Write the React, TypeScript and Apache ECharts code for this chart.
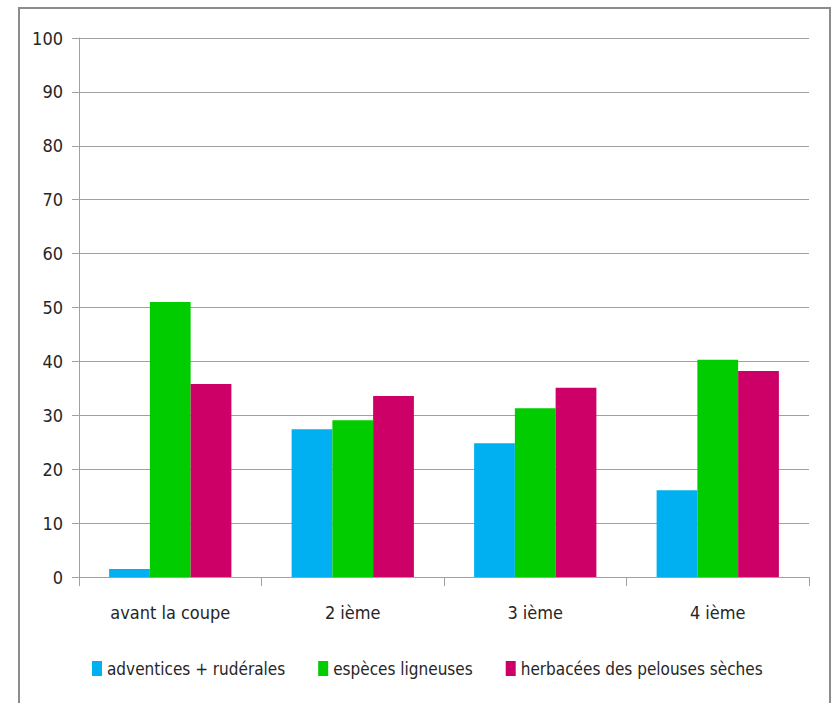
import React, { useEffect, useRef } from "react";
import * as echarts from "echarts";

const categories = ["avant la coupe", "2 ième", "3 ième", "4 ième"];
const seriesNames = ["adventices + rudérales", "espèces ligneuses", "herbacées des pelouses sèches"];
const adventices = [1.5, 27.4, 24.8, 16.1];
const ligneuses = [51, 29.1, 31.3, 40.3];
const herbacees = [35.8, 33.6, 35.1, 38.2];
const colors = ["#00B0F0", "#00CC00", "#CC0066"];

const FONT = "'DejaVu Sans Condensed', 'Liberation Sans Narrow', sans-serif";

export default function App() {
  const ref = useRef<HTMLDivElement>(null);
  useEffect(() => {
    document.body.style.margin = "0";
    const chart = echarts.init(ref.current!, null, { renderer: "svg" });
    const data = [adventices, ligneuses, herbacees];
    chart.setOption({
      animation: false,
      backgroundColor: "#ffffff",
      textStyle: { fontFamily: FONT },
      graphic: [
        {
          type: "rect",
          shape: { x: 19, y: 8, width: 811, height: 720 },
          style: { fill: "none", stroke: "#8c8c8c", lineWidth: 2 },
          silent: true,
        },
      ],
      grid: { left: 79, right: 22, top: 38, bottom: 126 },
      legend: {
        left: 92,
        top: 660,
        padding: 0,
        itemWidth: 10,
        itemHeight: 15,
        itemGap: 33,
        icon: "rect",
        textStyle: { fontSize: 17, color: "#262626", fontFamily: FONT, padding: [0, 0, 0, 0] },
        data: seriesNames,
      },
      xAxis: {
        type: "category",
        data: categories,
        axisLine: { lineStyle: { color: "#a0a0a0", width: 1 } },
        axisTick: { show: true, length: 9, lineStyle: { color: "#a0a0a0" } },
        axisLabel: { fontSize: 18, color: "#262626", margin: 26, fontFamily: FONT },
      },
      yAxis: {
        type: "value",
        min: 0,
        max: 100,
        interval: 10,
        axisLine: { show: true, lineStyle: { color: "#a0a0a0", width: 1 } },
        axisTick: { show: true, length: 7, lineStyle: { color: "#a0a0a0" } },
        axisLabel: { fontSize: 18, color: "#262626", margin: 16, fontFamily: FONT },
        splitLine: { lineStyle: { color: "#a0a0a0", width: 1 } },
      },
      series: seriesNames.map((name, i) => ({
        name,
        type: "bar",
        data: data[i],
        barGap: "0%",
        barCategoryGap: "33%",
        itemStyle: { color: colors[i] },
      })),
    });
    return () => chart.dispose();
  }, []);
  return <div ref={ref} style={{ width: 831, height: 703, position: "absolute", left: 0, top: 0 }} />;
}
